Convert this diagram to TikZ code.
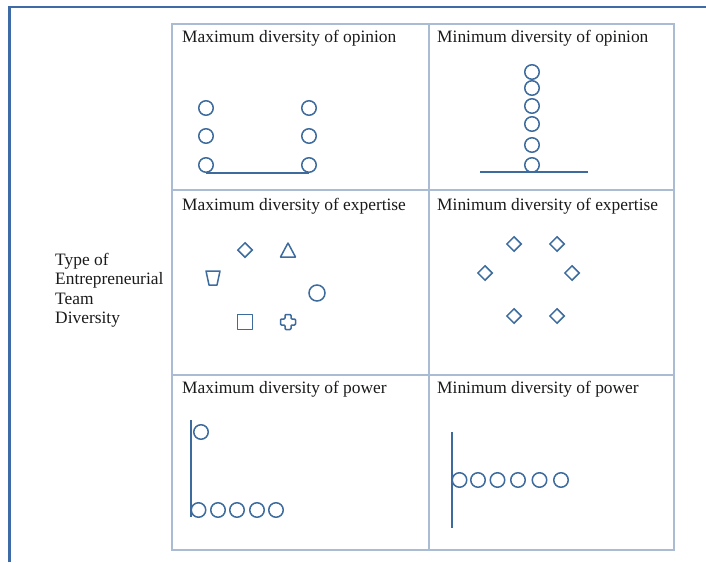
\documentclass[tikz,border=0pt]{standalone}
\usepackage{fontspec}
\setmainfont{Liberation Serif}
\usetikzlibrary{shapes.geometric}
\definecolor{framecol}{HTML}{3E6BA5}
\definecolor{gridcol}{HTML}{A9BCD4}
\definecolor{shapecol}{HTML}{3D6B9E}
\definecolor{textcol}{HTML}{1A1A1A}
\begin{document}
\begin{tikzpicture}[x=1pt,y=-1pt,
  frameline/.style={draw=framecol,line width=2.4pt},
  gridline/.style={draw=gridcol,line width=1.3pt},
  dot/.style={circle,draw=shapecol,line width=1.5pt,minimum size=14.5pt,inner sep=0pt},
  bigdot/.style={circle,draw=shapecol,line width=1.5pt,minimum size=16pt,inner sep=0pt},
  dia/.style={diamond,draw=shapecol,line width=1.5pt,minimum size=15pt,inner sep=0pt},
  axis/.style={draw=shapecol,line width=1.5pt},
  shp/.style={draw=shapecol,line width=1.5pt,line join=round},
  title/.style={anchor=base west,inner sep=0pt,text=textcol,font=\fontsize{17.4}{20}\selectfont},
]
\useasboundingbox (0,0) rectangle (706,562);
% outer frame
\coordinate (fa) at (9.5,562);
\coordinate (fb) at (9.5,7);
\coordinate (fc) at (706,7);
\draw[frameline] (fa) -- (fb) -- (fc);
% table grid
\draw[gridline] (172,24) rectangle (674,550);
\draw[gridline] (429,24) -- (429,550);
\draw[gridline] (172,190) -- (674,190);
\draw[gridline] (172,375) -- (674,375);
% titles
\node[title] (t1) at (182,42) {Maximum diversity of opinion};
\node[title] (t2) at (437,42) {Minimum diversity of opinion};
\node[title] (t3) at (182,210) {Maximum diversity of expertise};
\node[title] (t4) at (437,210) {Minimum diversity of expertise};
\node[title] (t5) at (182,393) {Maximum diversity of power};
\node[title] (t6) at (437,393) {Minimum diversity of power};
\node[anchor=north west,inner sep=0pt,align=left,text=textcol,font=\fontsize{17.4}{19.5}\selectfont] (lab) at (55,253) {Type of\\Entrepreneurial\\Team\\Diversity};
% cell 1: maximum diversity of opinion
\node[dot] (a1) at (206,108) {};
\node[dot] (a2) at (206,136) {};
\node[dot] (a3) at (206,165) {};
\node[dot] (b1) at (309,108) {};
\node[dot] (b2) at (309,136) {};
\node[dot] (b3) at (309,165) {};
\draw[axis] (a3.south) -- (b3.south);
% cell 2: minimum diversity of opinion
\foreach \i/\y in {1/72,2/88,3/106,4/124,5/145,6/165} {\node[dot] (c\i) at (532,\y) {};}
\coordinate (cl) at (480,172);
\coordinate (cr) at (588,172);
\draw[axis] (cl) -- (cr);
% cell 3: maximum diversity of expertise
\node[dia] (e1) at (245,250) {};
\draw[shp] (280.5,257) -- (288,243) -- (295.5,257) -- cycle;
\draw[shp] (206,271) -- (220,271) -- (217,285) -- (209,285) -- cycle;
\node[bigdot] (e4) at (317,293) {};
\draw[shp] (237.5,314.5) rectangle (252.5,329.5);
\draw[shp,rounded corners=1pt] (285,314.5) -- (291,314.5) -- (291,319) -- (295.5,319) -- (295.5,325) -- (291,325) -- (291,329.5) -- (285,329.5) -- (285,325) -- (280.5,325) -- (280.5,319) -- (285,319) -- cycle;
% cell 4: minimum diversity of expertise
\node[dia] (d1) at (514,244) {};
\node[dia] (d2) at (557,244) {};
\node[dia] (d3) at (485,273) {};
\node[dia] (d4) at (572,273) {};
\node[dia] (d5) at (514,316) {};
\node[dia] (d6) at (557,316) {};
% cell 5: maximum diversity of power
\coordinate (p1) at (191,420);
\coordinate (p2) at (191,517);
\draw[axis] (p1) -- (p2);
\node[dot] (q0) at (201,432) {};
\foreach \i/\x in {1/198.5,2/218,3/237,4/257,5/276} {\node[dot] (q\i) at (\x,510) {};}
% cell 6: minimum diversity of power
\coordinate (r1) at (452,432);
\coordinate (r2) at (452,528);
\draw[axis] (r1) -- (r2);
\foreach \i/\x in {1/459.5,2/478,3/497.5,4/518,5/539.5,6/561} {\node[dot] (s\i) at (\x,480) {};}
\end{tikzpicture}
\end{document}
